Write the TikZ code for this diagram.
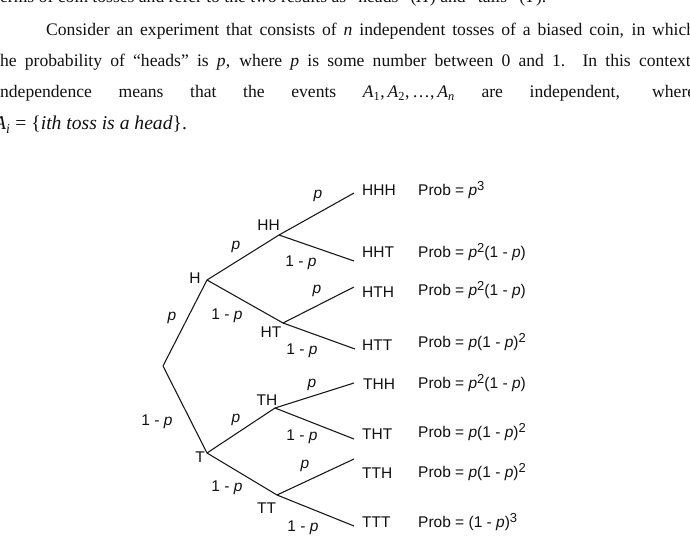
\documentclass[tikz,border=0pt]{standalone}
\usepackage{fontspec}
\setmainfont{Liberation Serif}
\newfontfamily\treefont{Liberation Sans}
\usetikzlibrary{positioning}
\definecolor{Ink}{HTML}{111111}
\definecolor{BranchInk}{HTML}{1A1A1A}
\newcommand{\probp}{\textit{p}}
\newcommand{\supnum}[1]{\raisebox{5pt}{\fontsize{13}{13}\selectfont #1}}

\begin{document}
\begin{tikzpicture}[
      x=1pt, y=-1pt,
      bodyline/.style={
        anchor=base west,
        inner sep=0pt,
        text=Ink,
        font=\fontsize{17.6}{20}\selectfont
      },
      branch/.style={draw=BranchInk, line width=1.1pt},
      vlabel/.style={
        anchor=base,
        inner sep=0pt,
        text=Ink,
        font=\treefont\fontsize{15.5}{17}\selectfont
      },
      outcome/.style={vlabel, anchor=base west}
    ]
      \useasboundingbox (0,0) rectangle (690,545);
      \clip (0,0) rectangle (690,545);

      % paragraph above the tree
      \node[bodyline] (line1) at (-5,3) {terms of coin tosses and refer to the two results as ``heads'' (\textit{H}) and ``tails'' (\textit{T}).};
      \node[bodyline] (line2) at (46,36) {\makebox[649pt][s]{Consider an experiment that consists of \textit{n} independent tosses of a biased coin, in which}};
      \node[bodyline] (line3) at (-5,67) {\makebox[700pt][s]{the probability of ``heads'' is \textit{p}, where \textit{p} is some number between 0 and 1. In this context,}};
      \node[bodyline] (line4) at (-5,98) {\makebox[700pt][s]{independence means that the events \mbox{\textit{A}\textsubscript{1},\,\textit{A}\textsubscript{2},\,\dots,\,\textit{A}\textsubscript{\textit{n}}} are independent, where}};
      \node[bodyline, font=\fontsize{19.6}{22}\selectfont] (line5) at (-6,130) {\textit{A}\textsubscript{\textit{i}} = \{\textit{ith toss is a head}\}.};

      % branch points
      \coordinate (root) at (163,366);
      \coordinate (h) at (207,280);
      \coordinate (t) at (207,453);
      \coordinate (hh) at (279,235);
      \coordinate (ht) at (283,323);
      \coordinate (th) at (275,408);
      \coordinate (tt) at (277,495);
      % free ends of the last tosses
      \coordinate (hhh) at (354,193);
      \coordinate (hht) at (354,261);
      \coordinate (hth) at (354,287);
      \coordinate (htt) at (355,349);
      \coordinate (thh) at (354,383);
      \coordinate (tht) at (354,439);
      \coordinate (tth) at (354,459);
      \coordinate (ttt) at (354,526);

      \foreach \a/\b in {root/h, root/t, h/hh, h/ht, hh/hhh, hh/hht, ht/hth, ht/htt,
                         t/th, t/tt, th/thh, th/tht, tt/tth, tt/ttt}
        \draw[branch] (\a) -- (\b);

      % names of the branch points
      \node[vlabel] (lab-h) at (195,283) {H};
      \node[vlabel] (lab-hh) at (268.5,231) {HH};
      \node[vlabel] (lab-ht) at (271,337) {HT};
      \node[vlabel] (lab-t) at (200,462) {T};
      \node[vlabel] (lab-th) at (267,405) {TH};
      \node[vlabel] (lab-tt) at (266.5,513) {TT};

      % probabilities on the branches
      \foreach \n/\xx/\yy/\txt in {
          rh/172/320/{\probp}, rt/157/425/{1 - \probp},
          hhh/236/249/{\probp}, hht/227/319/{1 - \probp},
          hhhh/318/199/{\probp}, hhht/301/266/{1 - \probp},
          hthh/317/293/{\probp}, htht/302/354/{1 - \probp},
          tth/236/422/{\probp}, ttt/227/491/{1 - \probp},
          thhh/312/387/{\probp}, thht/302/440/{1 - \probp},
          tthh/305/468/{\probp}, ttht/303/531/{1 - \probp}}
        \node[vlabel] (edge-\n) at (\xx,\yy) {\txt};

      % outcomes and their probabilities
      \foreach \n/\xx/\yy/\yp/\txt in {
          HHH/362/196/196/{\probp\supnum{3}},
          HHT/362/258/258/{\probp\supnum{2}(1 - \probp)},
          HTH/362/297/295/{\probp\supnum{2}(1 - \probp)},
          HTT/362/350/347/{\probp(1 - \probp)\supnum{2}},
          THH/363/389/388/{\probp\supnum{2}(1 - \probp)},
          THT/362/439/437/{\probp(1 - \probp)\supnum{2}},
          TTH/362/478/477/{\probp(1 - \probp)\supnum{2}},
          TTT/362/527/527/{(1 - \probp)\supnum{3}}}
      {
        \node[outcome] (out-\n) at (\xx,\yy) {\n};
        \node[outcome] (prob-\n) at (418,\yp) {Prob = \txt};
      }
    \end{tikzpicture}
\end{document}
